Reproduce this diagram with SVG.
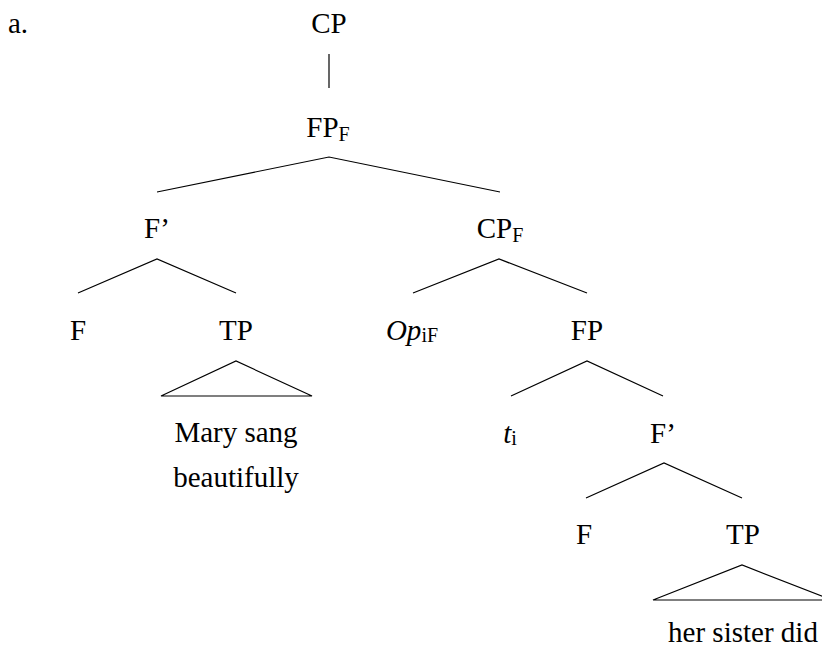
<svg xmlns="http://www.w3.org/2000/svg" width="822" height="649" viewBox="0 0 822 649">
<style>
text{font-family:"Liberation Serif","Times New Roman",serif;font-size:29px;fill:#000;text-anchor:middle}
.sub{font-size:20px}
.it{font-style:italic}
.e line,.e polyline,.e polygon{stroke:#000;stroke-width:1.2;fill:none}
</style>
<rect width="822" height="649" fill="#fff"/>
<text x="8" y="33" style="text-anchor:start">a.</text>
<g class="e" id="connectors">
<line x1="329" y1="54" x2="329" y2="88"/>
<polyline points="157,192 329,157 500,192"/>
<polyline points="78,293 157,259 236,293"/>
<polyline points="413,293 499,259 587,293"/>
<polygon points="161,396 236,361 312,396"/>
<polyline points="511,396 587,361 663,396"/>
<polyline points="586,498 664,463 742,498"/>
<polygon points="653,600 742,565 832,600"/>
</g>
<g id="n-cp"><text x="329" y="33">CP</text></g>
<g id="n-fpf"><text x="328" y="137">FP<tspan class="sub" dy="4">F</tspan></text></g>
<g id="n-fbar1"><text x="157" y="238">F’</text></g>
<g id="n-cpf"><text x="500" y="238">CP<tspan class="sub" dy="4">F</tspan></text></g>
<g id="n-f1"><text x="78" y="340">F</text></g>
<g id="n-tp1"><text x="236" y="340">TP</text></g>
<g id="n-op"><text x="412" y="340"><tspan class="it">Op</tspan><tspan class="sub" dy="2">iF</tspan></text></g>
<g id="n-fp"><text x="587" y="340">FP</text></g>
<g id="n-tp1-text"><text x="236" y="442">Mary sang</text><text x="236" y="487">beautifully</text></g>
<g id="n-ti"><text x="510" y="443"><tspan class="it">t</tspan><tspan class="sub" dy="2">i</tspan></text></g>
<g id="n-fbar2"><text x="663" y="443">F’</text></g>
<g id="n-f2"><text x="584" y="544">F</text></g>
<g id="n-tp2"><text x="743" y="544">TP</text></g>
<g id="n-tp2-text"><text x="743" y="642">her sister did</text></g>
</svg>
